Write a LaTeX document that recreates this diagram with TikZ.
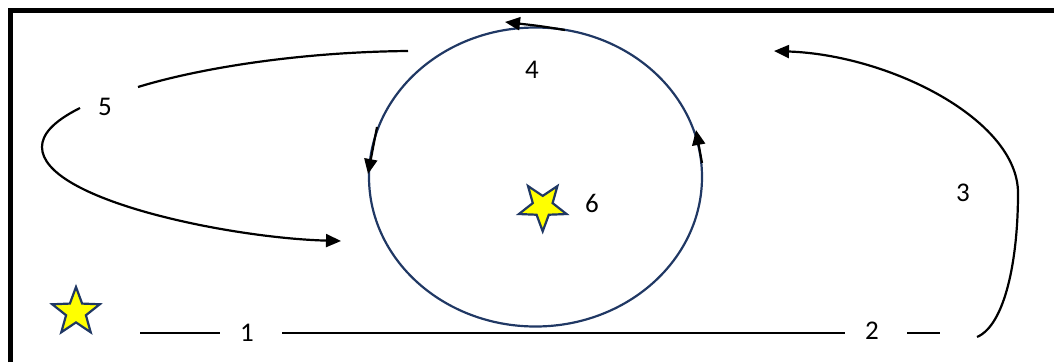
\documentclass[tikz,border=0pt]{standalone}
\usepackage{fontspec}
\setmainfont{Carlito}
\usetikzlibrary{arrows.meta,shapes.geometric}
\definecolor{navy}{HTML}{203864}
\definecolor{staryellow}{HTML}{FFFF00}
\begin{document}
\begin{tikzpicture}[x=1pt,y=-1pt,
  lbl/.style={font=\fontsize{27}{31}\selectfont, inner sep=0pt},
  conn/.style={line width=2.2pt, black},
  arr/.style={conn, -{Triangle[length=15pt,width=13pt]}},
  smallarr/.style={conn, -{Triangle[length=15pt,width=13pt]}},
  starshape/.style={star, star points=5, star point ratio=2.4, draw=navy, fill=staryellow, line width=2.2pt, inner sep=0pt},
  frame/.style={line width=5pt, black}
]
\useasboundingbox (0,0) rectangle (1054,362);
% frame (cut at right and bottom)
\coordinate (fl) at (10.5,362);
\coordinate (fc) at (10.5,10.5);
\coordinate (fr) at (1054,10.5);
\draw[frame] (fl) -- (fc) -- (fr);

% orbit
\node[draw=navy, ellipse, line width=2.2pt, minimum width=333pt, minimum height=299pt, inner sep=0pt] (orbit) at (535.5,177) {};

% stars
\node[starshape, minimum size=50pt, shape border rotate=180] (s6) at (542.7,206.3) {};
\node[starshape, minimum size=50pt] (s1) at (76,312) {};

% labels
\node[lbl] (n1) at (247,333) {1};
\node[lbl] (n2) at (872,331) {2};
\node[lbl] (n3) at (963,193) {3};
\node[lbl] (n4) at (532,70) {4};
\node[lbl] (n5) at (105,107) {5};
\node[lbl] (n6) at (592,203) {6};

% bottom line
\coordinate (b1) at (140,333);
\coordinate (b2) at (220,333);
\coordinate (b3) at (282,333);
\coordinate (b4) at (845,333);
\coordinate (b5) at (907,333);
\coordinate (b6) at (940,333);
\draw[conn] (b1) -- (b2);
\draw[conn] (b3) -- (b4);
\draw[conn] (b5) -- (b6);

% path 3
\coordinate (c3a) at (977,337);
\coordinate (c3b) at (1018,193);
\coordinate (c3c) at (774,51);
\draw[arr] (c3a) .. controls (1005,325) and (1018,260) .. (c3b)
  .. controls (1018,120) and (890,55) .. (c3c);

% path 5
\coordinate (c5a) at (408,51);
\coordinate (c5b) at (138,87);
\draw[conn] (c5a) .. controls (300,52) and (200,68) .. (c5b);
\coordinate (c5c) at (80,108);
\coordinate (c5d) at (42,147);
\coordinate (c5e) at (341,241);
\draw[arr] (c5c) .. controls (52,122) and (42,135) .. (c5d)
  .. controls (42,200) and (230,238) .. (c5e);

% arrows on orbit
\coordinate (o1a) at (565,30);
\coordinate (o1b) at (505,22);
\draw[smallarr] (o1a) .. controls (540,26) .. (o1b);
\coordinate (o2a) at (377,127);
\coordinate (o2b) at (368,174);
\draw[smallarr] (o2a) -- (o2b);
\coordinate (o3a) at (702,163);
\coordinate (o3b) at (696,130);
\draw[smallarr] (o3a) -- (o3b);
\end{tikzpicture}
\end{document}
